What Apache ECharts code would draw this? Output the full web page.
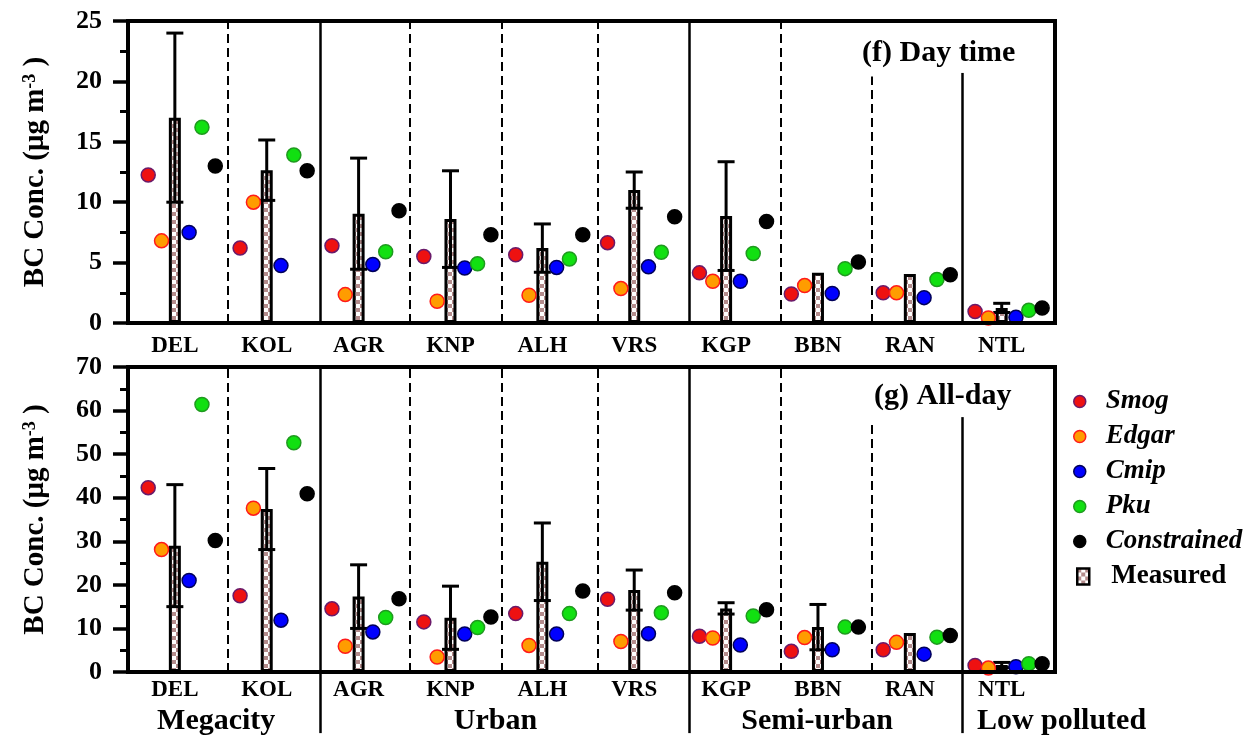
<!DOCTYPE html>
<html><head><meta charset="utf-8">
<script src="https://cdn.jsdelivr.net/npm/echarts@6/dist/echarts.min.js"></script>
<style>html,body{margin:0;padding:0;background:#fff}#c{width:1251px;height:737px}</style>
</head><body><div id="c"></div>
<script>
// ---------------- data ----------------
const sites = ['DEL','KOL','AGR','KNP','ALH','VRS','KGP','BBN','RAN','NTL'];
const groups = ['Megacity','Urban','Semi-urban','Low polluted'];
const modelNames = ['Smog','Edgar','Cmip','Pku','Constrained'];
const dayTicks = [0,5,10,15,20,25];
const allTicks = [0,10,20,30,40,50,60,70];

// (f) Day time
const smogDay  = [12.25, 6.2, 6.4, 5.5, 5.65, 6.65, 4.15, 2.4, 2.5, 0.95];
const edgarDay = [6.8, 10.0, 2.35, 1.8, 2.3, 2.85, 3.45, 3.1, 2.5, 0.42];
const cmipDay  = [7.5, 4.75, 4.85, 4.55, 4.6, 4.65, 3.45, 2.45, 2.1, 0.47];
const pkuDay   = [16.2, 13.9, 5.9, 4.9, 5.3, 5.85, 5.75, 4.5, 3.6, 1.05];
const consDay  = [13.0, 12.6, 9.3, 7.3, 7.3, 8.8, 8.4, 5.05, 4.0, 1.25];
const measDay  = [17.0, 12.65, 9.05, 8.6, 6.2, 11.0, 8.85, 4.15, 4.05, 1.25];
const sdDay    = [7.0, 2.5, 4.6, 4.0, 2.0, 1.5, 4.5, null, null, 0.38];

// (g) All-day
const smogAll  = [42.3, 17.5, 14.5, 11.5, 13.4, 16.7, 8.2, 4.75, 5.1, 1.5];
const edgarAll = [28.1, 37.6, 5.9, 3.45, 6.1, 7.0, 7.8, 7.9, 6.8, 0.9];
const cmipAll  = [21.0, 11.9, 9.2, 8.7, 8.7, 8.8, 6.2, 5.1, 4.1, 1.2];
const pkuAll   = [61.4, 52.6, 12.5, 10.2, 13.4, 13.6, 12.85, 10.3, 8.0, 1.9];
const consAll  = [30.2, 40.9, 16.8, 12.6, 18.6, 18.2, 14.3, 10.3, 8.4, 1.9];
const measAll  = [29.0, 37.4, 17.3, 12.45, 25.3, 18.8, 14.6, 10.3, 8.95, 1.6];
const sdAll    = [14.0, 9.3, 7.3, 7.25, 8.9, 4.6, 1.3, 5.2, null, 0.6];

// ---------------- styles / layout ----------------
const FONT = 'Liberation Serif';
const fills   = ['#ee1111','#ff9c00','#0000ff','#11e011','#000000'];
const borders = ['#6a1a6a','#ff1a1a','#00005a','#1f9a1f','#000000'];
const offsets = [-0.29, -0.145, 0.155, 0.295, 0.44];
const X_MIN = -0.51, X_MAX = 9.58;
const sepDay = [
  {x:0.578,s:false,t:25},{x:1.579,s:true,t:25},{x:2.559,s:false,t:25},{x:3.56,s:false,t:25},
  {x:4.605,s:false,t:25},{x:5.6,s:true,t:25},{x:6.59,s:false,t:25},{x:7.58,s:false,t:20.4},{x:8.57,s:true,t:20.7}];
const sepAll = [
  {x:0.578,s:false,t:70},{x:1.579,s:true,t:70},{x:2.559,s:false,t:70},{x:3.56,s:false,t:70},
  {x:4.605,s:false,t:70},{x:5.6,s:true,t:70},{x:6.59,s:false,t:70},{x:7.58,s:false,t:56.7},{x:8.57,s:true,t:58.5}];
const sepBand = [1.579, 5.6, 8.57];
const groupPos = [[0.45,0.24,'center'],[3.49,0.24,'center'],[6.99,0.24,'center'],[8.73,0.24,'left']];

// checker pattern for measured bars
const pc = document.createElement('canvas');
pc.width = 8; pc.height = 8;
const pctx = pc.getContext('2d');
pctx.fillStyle = '#ffffff'; pctx.fillRect(0,0,8,8);
pctx.fillStyle = '#b48c8c'; pctx.fillRect(0,0,4,4); pctx.fillRect(4,4,4,4);
const pattern = {image: pc, repeat: 'repeat'};

const chart = echarts.init(document.getElementById('c'), null, {renderer:'canvas', width:1251, height:737});

function yAxisCfg(gi, ticks) {
  return {
    type:'value', gridIndex: gi, min: ticks[0], max: ticks[ticks.length-1], interval: ticks[1]-ticks[0],
    name: 'BC Conc. (μg m{sup|-3} )', nameLocation:'middle', nameGap: 78, z: 10,
    nameTextStyle: {fontFamily: FONT, fontWeight:'bold', fontSize: 29, color:'#000',
      rich: {sup: {fontFamily: FONT, fontWeight:'bold', fontSize: 18, color:'#000', verticalAlign:'top'}}},
    axisLine: {show:true, onZero:false, lineStyle:{color:'#000', width:4}},
    axisTick: {show:true, inside:false, length:15, lineStyle:{color:'#000', width:3.5}},
    minorTick: {show:true, splitNumber:2, length:8, lineStyle:{color:'#000', width:3}},
    splitLine: {show:false},
    axisLabel: {margin: 26, fontFamily: FONT, fontWeight:'bold', fontSize: 26, color:'#000'}
  };
}
function xAxisCfg(gi, margin) {
  return {
    type:'value', gridIndex: gi, min: X_MIN, max: X_MAX, z: 10,
    axisLine: {show:true, onZero:false, lineStyle:{color:'#000', width:4}},
    axisTick: {show:false}, splitLine: {show:false},
    axisLabel: {show:true, customValues: sites.map((s,i)=>i), formatter: v => sites[Math.round(v)],
      margin: margin, fontFamily: FONT, fontWeight:'bold', fontSize: 23, color:'#000'}
  };
}
function modelSeries(vals, k, gi) {
  return {type:'scatter', name: modelNames[k], xAxisIndex: gi, yAxisIndex: gi, z: 5, silent: true,
    symbol:'circle', symbolSize: 14,
    itemStyle: {color: fills[k], borderColor: borders[k], borderWidth: 1.5, opacity: 1},
    data: vals.map((v,i) => [i + offsets[k], v])};
}
function barSeries(vals, gi) {
  return {type:'bar', name:'Measured', xAxisIndex: gi, yAxisIndex: gi, z: 3, silent: true, barWidth: 12,
    itemStyle: {color: pattern, borderColor:'#000', borderWidth: 3},
    data: vals.map((v,i) => [i, v])};
}
function errSeries(vals, sds, gi) {
  const d = [];
  vals.forEach((v,i) => { if (sds[i] != null) d.push([i, v, sds[i]]); });
  return {type:'custom', xAxisIndex: gi, yAxisIndex: gi, z: 4, silent: true,
    dimensions: ['x','m','s'], encode: {x: 0, y: 1},
    renderItem: function(params, api) {
      const x = api.value(0), m = api.value(1), s = api.value(2);
      const top = api.coord([x, m + s]);
      const bot = api.coord([x, m - s]);
      const hw = 8.5;
      const st = {stroke:'#000', lineWidth: 3};
      return {type:'group', children: [
        {type:'line', shape:{x1: top[0], y1: top[1], x2: bot[0], y2: bot[1]}, style: st},
        {type:'line', shape:{x1: top[0]-hw, y1: top[1], x2: top[0]+hw, y2: top[1]}, style: st},
        {type:'line', shape:{x1: bot[0]-hw, y1: bot[1], x2: bot[0]+hw, y2: bot[1]}, style: st}
      ]};
    },
    data: d};
}
function sepSeries(seps, gi) {
  return {type:'scatter', xAxisIndex: gi, yAxisIndex: gi, z: 1, silent: true, data: [],
    markLine: {silent: true, symbol:['none','none'], label:{show:false}, animation:false,
      data: seps.map(s => [
        {coord:[s.x, 0], lineStyle:{color:'#000', type: s.s ? 'solid' : [9,5], width: s.s ? 2.5 : 2}},
        {coord:[s.x, s.t]}])}};
}

const series = [
  sepSeries(sepDay, 0), sepSeries(sepAll, 1),
  {type:'scatter', xAxisIndex:2, yAxisIndex:2, z:1, silent:true, data:[],
    markLine:{silent:true, symbol:['none','none'], label:{show:false}, animation:false,
      data: sepBand.map(x => [{coord:[x, 0.06], lineStyle:{color:'#000', type:'solid', width:2.5}}, {coord:[x, 1]}])}},
  {type:'scatter', xAxisIndex:2, yAxisIndex:2, z:5, silent:true, symbolSize:0,
    itemStyle:{color:'#000', opacity:1},
    data: groups.map((g,i) => ({value:[groupPos[i][0], groupPos[i][1]], name:g,
      label:{show:true, position:'inside', align: groupPos[i][2], formatter: g, opacity:1,
        textBorderWidth:0, textShadowBlur:0,
        fontFamily: FONT, fontWeight:'bold', fontSize: 30, color:'#000'}}))},
  barSeries(measDay, 0), barSeries(measAll, 1),
  errSeries(measDay, sdDay, 0), errSeries(measAll, sdAll, 1)
];
[smogDay, edgarDay, cmipDay, pkuDay, consDay].forEach((v,k) => series.push(modelSeries(v, k, 0)));
[smogAll, edgarAll, cmipAll, pkuAll, consAll].forEach((v,k) => series.push(modelSeries(v, k, 1)));

chart.setOption({
  animation: false,
  backgroundColor: '#fff',
  textStyle: {fontFamily: FONT},
  grid: [
    {left:128, right:196, top:21, height:302, show:true, borderColor:'#000', borderWidth:4, backgroundColor:'transparent'},
    {left:128, right:196, top:367, height:305, show:true, borderColor:'#000', borderWidth:4, backgroundColor:'transparent'},
    {left:128, right:196, top:672, height:65, show:false}
  ],
  xAxis: [xAxisCfg(0, 12), xAxisCfg(1, 7),
    {type:'value', gridIndex:2, min:X_MIN, max:X_MAX, show:false}],
  yAxis: [yAxisCfg(0, dayTicks), yAxisCfg(1, allTicks),
    {type:'value', gridIndex:2, min:0, max:1, show:false}],
  title: [
    {text:'(f) Day time', left:862, top:38, padding:0,
      textStyle:{fontFamily:FONT, fontWeight:'bold', fontSize:30, color:'#000'}},
    {text:'(g) All-day', left:874, top:381, padding:0,
      textStyle:{fontFamily:FONT, fontWeight:'bold', fontSize:30, color:'#000'}}
  ],
  legend: [
    {data: modelNames, orient:'vertical', left:1073, top:388, padding:0, itemGap:8,
      itemWidth:12, itemHeight:12, selectedMode:false, icon:'circle',
      itemStyle:{borderWidth:1.5},
      textStyle:{fontFamily:FONT, fontStyle:'italic', fontWeight:'bold', fontSize:27, color:'#000', padding:[0,0,0,15]}},
    {data: ['Measured'], orient:'vertical', left:1076, top:563, padding:0,
      itemWidth:12, itemHeight:16, selectedMode:false, icon:'rect',
      itemStyle:{color: pattern, borderColor:'#000', borderWidth:2.5},
      textStyle:{fontFamily:FONT, fontWeight:'bold', fontSize:27, color:'#000', padding:[0,0,0,17]}}
  ],
  series: series
});
</script></body></html>
